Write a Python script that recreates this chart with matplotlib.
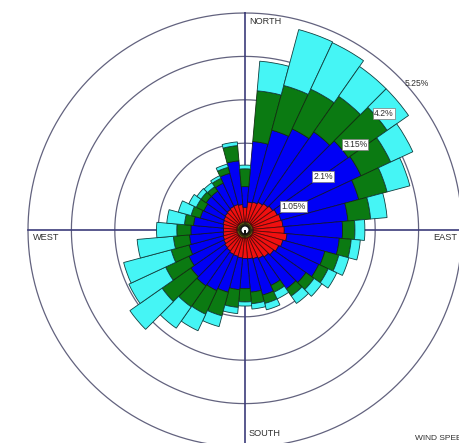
import numpy as np
import matplotlib
matplotlib.use("Agg")
import matplotlib.pyplot as plt

# Direction sectors (degrees clockwise from north), 10-degree bins
directions = list(range(0, 360, 10))

# Cumulative frequency (%) reached by each wind-speed class per direction
calm_radius = 0.10
band1_outer = [0.20] * 36
band2_outer = [0.55, 0.68, 0.70, 0.74, 0.78, 0.82, 0.86, 0.90, 0.92, 0.95, 1.02, 0.95,
               0.90, 0.85, 0.80, 0.76, 0.72, 0.70, 0.69, 0.68, 0.66, 0.65, 0.62, 0.60,
               0.57, 0.55, 0.53, 0.52, 0.53, 0.55, 0.57, 0.59, 0.61, 0.63, 0.64, 0.62]
band3_outer = [1.05, 2.15, 2.50, 2.70, 2.90, 3.05, 3.10, 2.85, 2.50, 2.36, 2.29, 2.00,
               1.97, 1.80, 1.74, 1.48, 1.63, 1.51, 1.42, 1.45, 1.56, 1.62, 1.65, 1.60,
               1.50, 1.40, 1.35, 1.31, 1.25, 1.12, 1.10, 1.15, 1.15, 1.25, 1.42, 1.68]
band4_outer = [1.48, 3.38, 3.62, 3.76, 3.95, 4.20, 3.89, 3.56, 3.05, 2.66, 2.58, 2.35,
               2.22, 2.04, 1.95, 1.66, 1.84, 1.79, 1.74, 1.88, 2.15, 2.25, 2.27, 2.45,
               2.12, 1.85, 1.74, 1.65, 1.47, 1.35, 1.30, 1.30, 1.28, 1.38, 1.57, 2.05]
band5_outer = [1.57, 4.10, 5.02, 5.00, 4.83, 4.83, 4.48, 4.13, 3.45, 2.90, 2.80, 2.60,
               2.45, 2.27, 2.17, 1.84, 2.00, 1.92, 1.84, 2.03, 2.42, 2.69, 2.90, 3.40,
               3.10, 3.04, 2.62, 2.14, 1.90, 1.67, 1.50, 1.42, 1.40, 1.45, 1.65, 2.14]

band_colors = ["#c8c400", "#f01010", "#0000f5", "#0b7a12", "#45f5f5"]
band_edges = ["#202010", "#5a0808", "#101040", "#103010", "#104040"]

ring_values = [1.05, 2.1, 3.15, 4.2, 5.25]
ring_labels = ["1.05%", "2.1%", "3.15%", "4.2%", "5.25%"]
ring_label_angles = [57, 52, 49, 48, 47.5]

W, H, DPI = 459, 443, 100
fig = plt.figure(figsize=(W / DPI, H / DPI), dpi=DPI)
fig.patch.set_facecolor("white")

cx, cy, R = 245, 230, 217
ax = fig.add_axes([(cx - R) / W, (H - cy - R) / H, 2 * R / W, 2 * R / H],
                  projection="polar")
ax.set_theta_zero_location("N")
ax.set_theta_direction(-1)
ax.set_ylim(0, 5.25)
ax.grid(False)
ax.set_xticks([])
ax.set_yticks([])
ax.spines["polar"].set_visible(False)
ax.patch.set_alpha(0)

# Rings and compass axes
t = np.linspace(0, 2 * np.pi, 721)
for rv in ring_values:
    ax.plot(t, np.full_like(t, rv), color="#62627e", lw=0.9, zorder=1, clip_on=False)
for ang in (0, 90, 180, 270):
    ax.plot([np.deg2rad(ang)] * 2, [0, 5.25], color="#3c3c7a", lw=1.2, zorder=1,
            clip_on=False)

# Stacked bars
theta = np.deg2rad(directions)
width = np.deg2rad(10)
bounds = [[calm_radius] * 36, band1_outer, band2_outer, band3_outer, band4_outer,
          band5_outer]
for i, (col, ec) in enumerate(zip(band_colors, band_edges)):
    lo = np.array(bounds[i])
    hi = np.array(bounds[i + 1])
    ax.bar(theta, hi - lo, width=width, bottom=lo, color=col,
           edgecolor=ec, linewidth=0.6, zorder=3)

# Calm centre
ax.bar(0, calm_radius, width=2 * np.pi, bottom=0, color="white",
       edgecolor="#101010", linewidth=1.0, zorder=4)

# Ring labels
for rv, lab, ang in zip(ring_values, ring_labels, ring_label_angles):
    box = None
    if rv < 5:
        box = dict(boxstyle="square,pad=0.12", fc="white", ec="#7a7a7a", lw=0.5)
    ax.text(np.deg2rad(ang), rv, lab, ha="left", va="center", fontsize=6.2,
            family="Liberation Sans", color="#303030", bbox=box, zorder=6)

# Compass captions
fkw = dict(fontsize=6.6, family="Liberation Sans", color="#303030")
fig.text(249 / W, 1 - 21.5 / H, "NORTH", ha="left", va="center", **fkw)
fig.text(249 / W, 1 - 434 / H, "SOUTH", ha="left", va="center", **fkw)
fig.text(33 / W, 1 - 238 / H, "WEST", ha="left", va="center", **fkw)
fig.text(433 / W, 1 - 238 / H, "EAST", ha="left", va="center", **fkw)
fig.text(415 / W, 1 - 438 / H, "WIND SPEED", ha="left", va="center",
         fontsize=6.0, family="Liberation Sans", color="#303030")

fig.savefig("out.png", dpi=DPI, facecolor="white")
